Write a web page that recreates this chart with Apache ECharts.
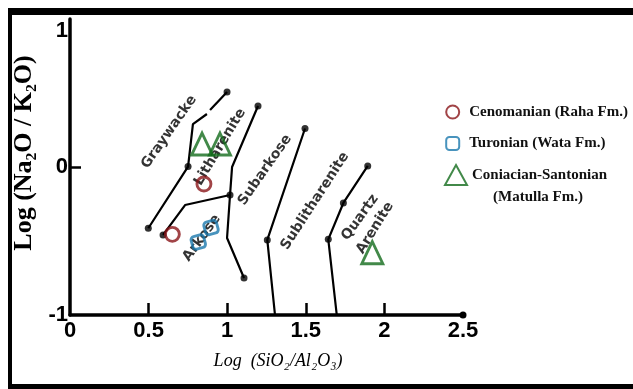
<!DOCTYPE html>
<html>
<head>
<meta charset="utf-8">
<script src="https://cdn.jsdelivr.net/npm/echarts@6/dist/echarts.min.js"></script>
<style>
  html, body { margin: 0; padding: 0; background: #fff; }
  #chart { width: 633px; height: 389px; }
</style>
</head>
<body>
<div id="chart"></div>
<script>
// ---------------- data ----------------
const xTickValues = [0.5, 1, 1.5, 2];
const yTickValues = [0];

// sample points
const cenomanian = [[0.852, -0.115], [0.651, -0.455]];
const turonian   = [[0.816, -0.507], [0.897, -0.409]];
const coniacian  = [[0.840, 0.155], [0.954, 0.155], [1.923, -0.579]];

// classification boundaries
const boundaryGraywackeLow  = [[0.498, -0.414], [0.751, 0.003], [0.782, 0.290], [0.871, 0.358]];
const boundaryGraywackeHigh = [[0.891, 0.385], [0.999, 0.507]];
const boundaryArkoseUpper   = [[0.592, -0.459], [0.732, -0.257], [1.018, -0.189], [1.031, 0.000], [1.196, 0.412]];
const boundaryArkoseLower   = [[1.018, -0.189], [0.999, -0.480], [1.107, -0.750]];
const boundarySubarkose     = [[1.495, 0.260], [1.255, -0.493], [1.304, -1.000]];
const boundaryQuartz        = [[1.894, 0.007], [1.739, -0.243], [1.643, -0.489], [1.697, -1.000]];
const boundaryNodes = [
  [0.498, -0.414], [0.751, 0.003], [0.999, 0.507],
  [0.592, -0.459], [1.018, -0.189], [1.196, 0.412], [1.107, -0.750],
  [1.495, 0.260], [1.255, -0.493],
  [1.894, 0.007], [1.739, -0.243], [1.643, -0.489]
];

// field names
const fieldNames = ['Graywacke', 'Litharenite', 'Arkose', 'Subarkose', 'Sublitharenite', 'Quartz', 'Arenite'];
const fieldX     = [0.630, 0.954, 0.838, 1.240, 1.559, 1.845, 1.940];
const fieldY     = [0.236, 0.135, -0.480, -0.020, -0.230, -0.341, -0.412];
const fieldRot   = [55, 59, 54, 55, 57, 54, 58];

// ---------------- chart ----------------
const numFont = '"Liberation Sans", Arial, sans-serif';
const serifFont = '"Liberation Serif", "DejaVu Serif", serif';

const chart = echarts.init(document.getElementById('chart'), null, { renderer: 'canvas' });

function boundarySeries(data) {
  return {
    type: 'line', data: data, symbol: 'none', z: 3, silent: true,
    lineStyle: { color: '#000', width: 2.2 }
  };
}

const option = {
  backgroundColor: '#fff',
  animation: false,
  grid: { left: 70, right: 170, top: 19, bottom: 74 },
  graphic: [
    { type: 'rect', shape: { x: 8, y: 8, width: 625, height: 7 }, style: { fill: '#000' }, silent: true },
    { type: 'rect', shape: { x: 8, y: 8, width: 4, height: 381 }, style: { fill: '#000' }, silent: true },
    { type: 'rect', shape: { x: 8, y: 384, width: 625, height: 5 }, style: { fill: '#000' }, silent: true }
  ],
  xAxis: {
    type: 'value', min: 0, max: 2.5, interval: 0.5,
    splitLine: { show: false },
    axisLine: { show: true, onZero: false, lineStyle: { color: '#000', width: 3.5 }, symbol: ['none', 'circle'], symbolSize: [7, 7] },
    axisTick: { show: true, inside: true, length: 12, customValues: xTickValues, lineStyle: { color: '#000', width: 2.5 } },
    axisLabel: { color: '#000', fontFamily: numFont, fontWeight: 'bold', fontSize: 22, margin: 5 },
    name: 'Log  (SiO₂/Al₂O₃)', nameLocation: 'middle', nameGap: 37,
    nameTextStyle: { color: '#000', fontFamily: serifFont, fontStyle: 'italic', fontSize: 18, padding: [0, 0, 0, 23] }
  },
  yAxis: {
    type: 'value', min: -1, max: 1, interval: 1,
    splitLine: { show: false },
    axisLine: { show: true, onZero: false, lineStyle: { color: '#000', width: 3.5, cap: 'round' } },
    axisTick: { show: true, inside: true, length: 11, customValues: yTickValues, lineStyle: { color: '#000', width: 2.5 } },
    axisLabel: {
      color: '#000', fontFamily: numFont, fontWeight: 'bold', fontSize: 22, margin: 2,
      formatter: function (v) { return v === 1 ? '{t|1}' : String(v); },
      rich: { t: { fontFamily: numFont, fontWeight: 'bold', fontSize: 22, color: '#000', padding: [24, 0, 0, 0] } }
    },
    name: 'Log (Na₂O / K₂O)', nameLocation: 'middle', nameGap: 29,
    nameTextStyle: { color: '#000', fontFamily: serifFont, fontWeight: 'bold', fontSize: 26, padding: [0, 0, 0, 28] }
  },
  legend: [
    {
      orient: 'vertical', left: 445.2, top: 104, padding: 0,
      itemWidth: 13, itemHeight: 13, itemGap: 15.6, symbolRotate: 0,
      selectedMode: false,
      data: ['Cenomanian (Raha Fm.)', 'Turonian (Wata Fm.)'],
      textStyle: { color: '#111', fontFamily: serifFont, fontWeight: 'bold', fontSize: 15, lineHeight: 16, padding: [0, 0, 0, 5] }
    },
    {
      orient: 'vertical', left: 444, top: 142.5, padding: 0,
      itemWidth: 22, itemHeight: 20, selectedMode: false,
      data: ['Coniacian-Santonian'],
      formatter: function () { return '{a|Coniacian-Santonian}\n{b|(Matulla Fm.)}'; },
      textStyle: {
        color: '#111', fontFamily: serifFont, fontWeight: 'bold', fontSize: 15, lineHeight: 21.7,
        padding: [21.7, 0, 0, 0],
        rich: {
          a: { color: '#111', fontFamily: serifFont, fontWeight: 'bold', fontSize: 15, lineHeight: 21.7 },
          b: { color: '#111', fontFamily: serifFont, fontWeight: 'bold', fontSize: 15, lineHeight: 21.7, padding: [0, 0, 0, 21] }
        }
      }
    }
  ],
  series: [
    boundarySeries(boundaryGraywackeLow),
    boundarySeries(boundaryGraywackeHigh),
    boundarySeries(boundaryArkoseUpper),
    boundarySeries(boundaryArkoseLower),
    boundarySeries(boundarySubarkose),
    boundarySeries(boundaryQuartz),
    {
      type: 'scatter', data: boundaryNodes, symbol: 'circle', symbolSize: 7, z: 3, silent: true,
      itemStyle: { color: '#000' }
    },
    {
      type: 'scatter', z: 2, silent: true, symbol: 'circle', symbolSize: 1,
      itemStyle: { color: 'rgba(0,0,0,0)' },
      data: fieldNames.map(function (n, i) {
        return {
          name: n, value: [fieldX[i], fieldY[i]],
          label: { rotate: fieldRot[i] }
        };
      }),
      label: {
        show: true, position: 'inside', color: '#000',
        fontFamily: '"DejaVu Sans", sans-serif', fontWeight: 'bold', fontSize: 14,
        formatter: function (p) { return p.name; }
      }
    },
    {
      name: 'Cenomanian (Raha Fm.)', type: 'scatter', data: cenomanian, z: 6,
      symbol: 'circle', symbolSize: 14,
      itemStyle: { color: 'rgba(0,0,0,0)', borderColor: '#8a1519', borderWidth: 2.9 }
    },
    {
      name: 'Turonian (Wata Fm.)', type: 'scatter', data: turonian, z: 6,
      symbol: 'roundRect', symbolSize: 13, symbolRotate: 15,
      itemStyle: { color: 'rgba(0,0,0,0)', borderColor: '#1a78ad', borderWidth: 2.9 }
    },
    {
      name: 'Coniacian-Santonian', type: 'scatter', data: coniacian, z: 6,
      symbol: 'triangle', symbolSize: [21, 22],
      itemStyle: { color: 'rgba(0,0,0,0)', borderColor: '#136b1b', borderWidth: 2.9 }
    }
  ]
};

chart.setOption(option);
</script>
</body>
</html>
